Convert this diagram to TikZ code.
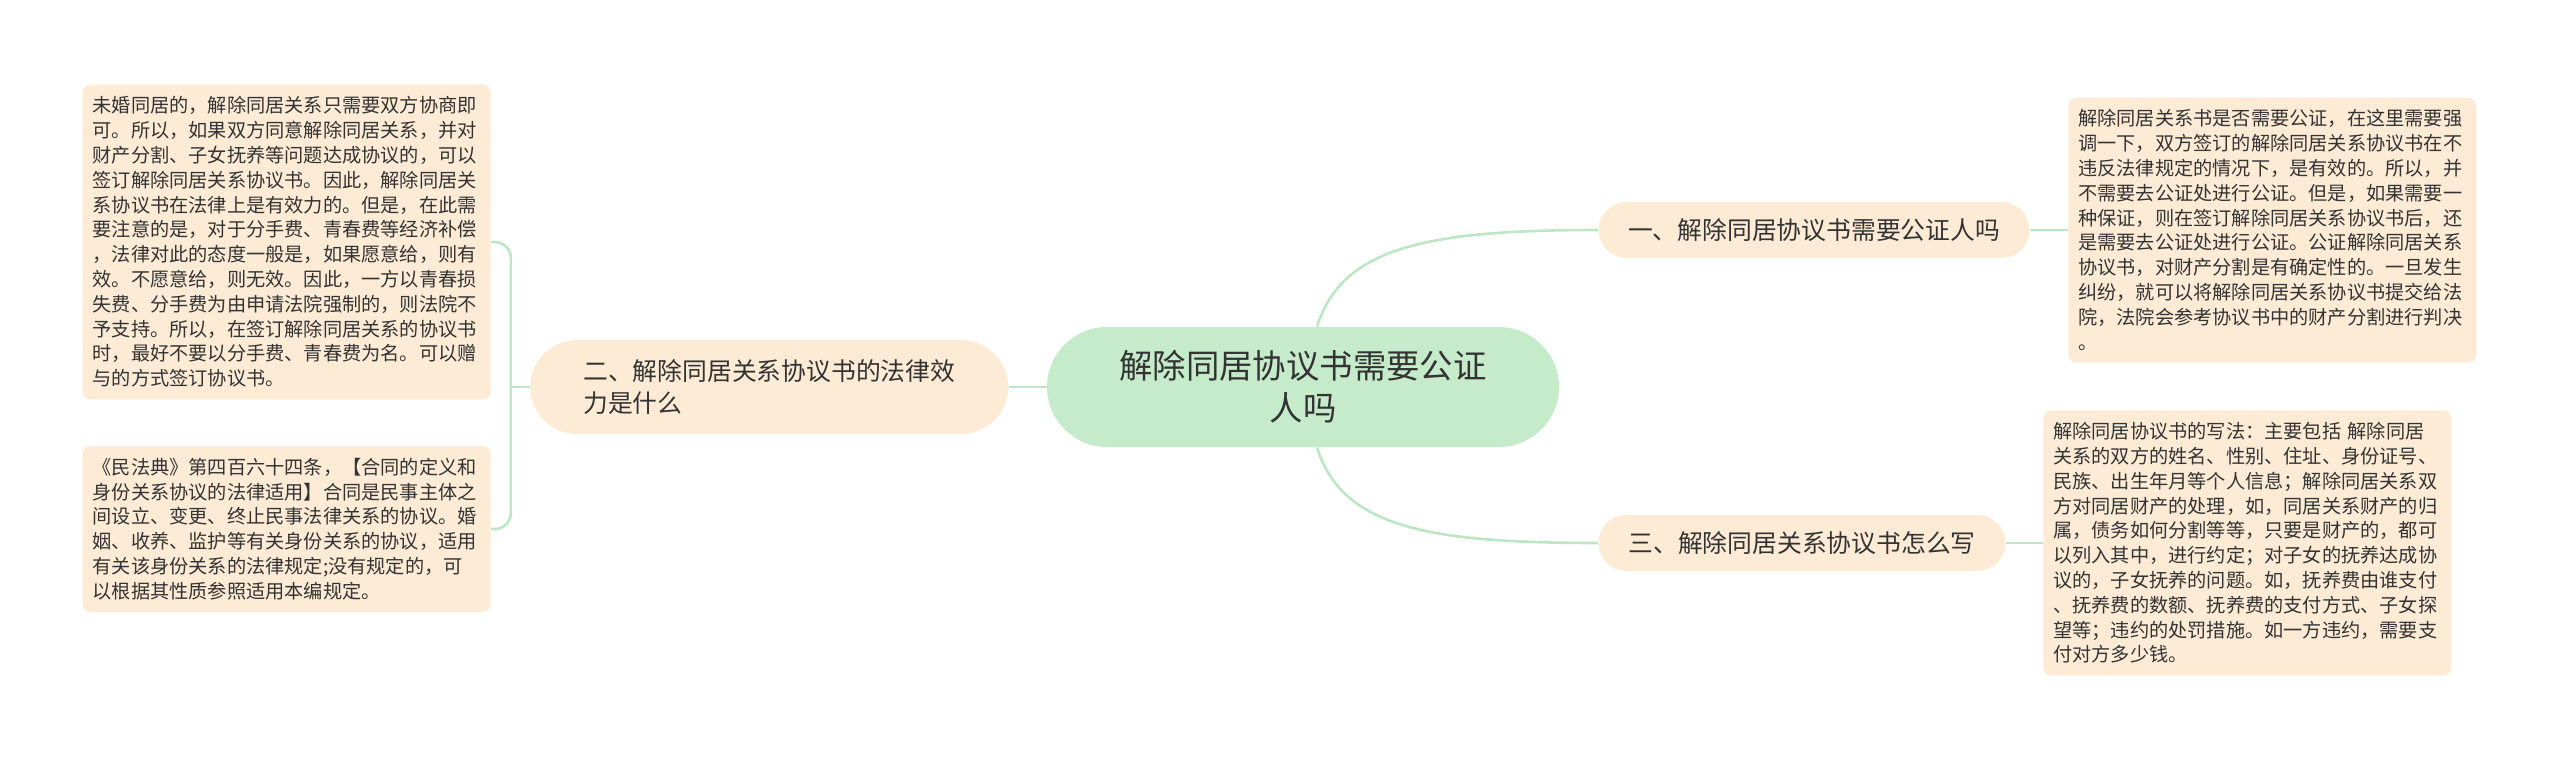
\documentclass[tikz,border=0pt]{standalone}
\usepackage{fontspec}
\setmainfont{Noto Sans CJK SC}
\usetikzlibrary{positioning}
\definecolor{leaffill}{HTML}{FDEBD5}
\definecolor{rootfill}{HTML}{C5EBCA}
\definecolor{linkcol}{HTML}{BDE6C4}
\definecolor{txtcol}{HTML}{333333}

\begin{document}
\begin{tikzpicture}[%
  x=0.5pt,
  y=-0.5pt,
  every node/.style={text=txtcol},
  root/.style={
    fill=rootfill,
    rounded corners=30pt,
    minimum width=256pt,
    minimum height=60pt,
    align=center,
    font=\fontsize{16.7pt}{21pt}\selectfont},
  topic/.style={
    fill=leaffill,
    align=left,
    font=\fontsize{12.4pt}{16pt}\selectfont},
  leaf/.style={
    fill=leaffill,
    rounded corners=4pt,
    text width=194pt,
    inner xsep=5pt,
    inner ysep=6pt,
    align=left,
    font=\fontsize{9.6pt}{12.4pt}\selectfont},
  link/.style={
    draw=linkcol,
    line width=1.3pt}
  ]
  \useasboundingbox (0,0) rectangle (2560,762);
  %% Nodes
  \node[root] (root) at (1303,387) {解除同居协议书需要公证\\人吗};
  \node[topic, left = 19pt of root, minimum width=239pt, minimum height=47pt,
        rounded corners=23.5pt] (b2) {二、解除同居关系协议书的法律效\\力是什么};
  \node[topic, minimum width=215.5pt, minimum height=28pt,
        rounded corners=14pt] (b1) at (1814,230) {一、解除同居协议书需要公证人吗};
  \node[topic, minimum width=203.5pt, minimum height=28pt,
        rounded corners=14pt] (b3) at (1802,543) {三、解除同居关系协议书怎么写};
  \node[leaf, anchor=east] (leafA) at (491,242) {未婚同居的，解除同居关系只需要双方协商即\\可。所以，如果双方同意解除同居关系，并对\\财产分割、子女抚养等问题达成协议的，可以\\签订解除同居关系协议书。因此，解除同居关\\系协议书在法律上是有效力的。但是，在此需\\要注意的是，对于分手费、青春费等经济补偿\\，法律对此的态度一般是，如果愿意给，则有\\效。不愿意给，则无效。因此，一方以青春损\\失费、分手费为由申请法院强制的，则法院不\\予支持。所以，在签订解除同居关系的协议书\\时，最好不要以分手费、青春费为名。可以赠\\与的方式签订协议书。};
  \node[leaf, anchor=east] (leafB) at (491,529) {《民法典》第四百六十四条，【合同的定义和\\身份关系协议的法律适用】合同是民事主体之\\间设立、变更、终止民事法律关系的协议。婚\\姻、收养、监护等有关身份关系的协议，适用\\有关该身份关系的法律规定;没有规定的，可\\以根据其性质参照适用本编规定。};
  \node[leaf, right = 19pt of b1] (leafC) {解除同居关系书是否需要公证，在这里需要强\\调一下，双方签订的解除同居关系协议书在不\\违反法律规定的情况下，是有效的。所以，并\\不需要去公证处进行公证。但是，如果需要一\\种保证，则在签订解除同居关系协议书后，还\\是需要去公证处进行公证。公证解除同居关系\\协议书，对财产分割是有确定性的。一旦发生\\纠纷，就可以将解除同居关系协议书提交给法\\院，法院会参考协议书中的财产分割进行判决\\。};
  \node[leaf, right = 18.5pt of b3] (leafD) {解除同居协议书的写法：主要包括 解除同居\\关系的双方的姓名、性别、住址、身份证号、\\民族、出生年月等个人信息；解除同居关系双\\方对同居财产的处理，如，同居关系财产的归\\属，债务如何分割等等，只要是财产的，都可\\以列入其中，进行约定；对子女的抚养达成协\\议的，子女抚养的问题。如，抚养费由谁支付\\、抚养费的数额、抚养费的支付方式、子女探\\望等；违约的处罚措施。如一方违约，需要支\\付对方多少钱。};
  %% Edges
  \draw[link] (root.west) -- (b2.east);
  \draw[link] ([xshift=7pt]root.north) .. controls +(25,-80) and +(-170,0) .. (b1.west);
  \draw[link] ([xshift=7pt]root.south) .. controls +(25,80) and +(-170,0) .. (b3.west);
  \draw[link] (b2.west) -- ++(-19,0);
  \draw[link, rounded corners=8pt] (leafA.east) -| ([xshift=-9.5pt]b2.west) |- (leafB.east);
  \draw[link] (b1.east) -- (leafC.west);
  \draw[link] (b3.east) -- (leafD.west);
\end{tikzpicture}
\end{document}
